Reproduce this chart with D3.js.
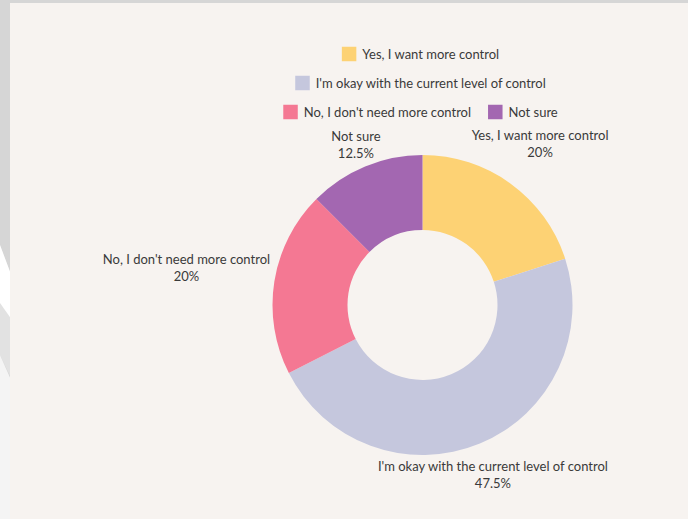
<!DOCTYPE html>
<html>
<head>
<meta charset="utf-8">
<script src="https://cdn.jsdelivr.net/npm/d3@7"></script>
<style>
  html, body { margin: 0; padding: 0; background: #ffffff; }
  svg { display: block; }
  text { font-family: Lato, "Open Sans", sans-serif; fill: #3a3a3a; }
</style>
</head>
<body>
<svg id="chart" width="688" height="519"></svg>
<script>
// Survey answers and their shares (%)
const categories = [
  "Yes, I want more control",
  "I'm okay with the current level of control",
  "No, I don't need more control",
  "Not sure"
];
const shares = [20, 47.5, 20, 12.5];
const shareLabels = ["20%", "47.5%", "20%", "12.5%"];
const colors = ["#FDD274", "#C5C7DD", "#F47893", "#A367B1"];

// Legend rows (indices into categories)
const legendRows = [[0], [1], [2, 3]];

const W = 688, H = 519;
const fontSize = 13;
const svg = d3.select("#chart");

// Page backdrop: grey frame with a pale chevron, beige panel on top
svg.append("rect").attr("width", W).attr("height", H).attr("fill", "#d6d6d6");
svg.append("path")
  .attr("d", "M0,245 L12,277 L12,380 L0,355 Z")
  .attr("fill", "#e2e2e2");
svg.append("path")
  .attr("d", "M0,245 L12,277 L12,320 L0,303 Z")
  .attr("fill", "#ffffff");
svg.append("path")
  .attr("d", "M0,355 L12,382 L12,519 L0,519 Z")
  .attr("fill", "#f4f4f4");
svg.append("rect").attr("x", 10).attr("y", 3).attr("width", W - 10).attr("height", H - 3)
  .attr("fill", "#F7F3F0");

// Donut geometry
const cx = 422.5, cy = 305;
const outerR = 150, innerR = 75;

const pie = d3.pie().sort(null).value(d => d.value);
const arcs = pie(categories.map((c, i) => ({ name: c, value: shares[i], label: shareLabels[i], color: colors[i] })));

const arc = d3.arc().innerRadius(innerR).outerRadius(outerR);

const g = svg.append("g").attr("transform", `translate(${cx},${cy})`);
g.selectAll("path.slice")
  .data(arcs)
  .join("path")
  .attr("class", "slice")
  .attr("d", arc)
  .attr("fill", d => d.data.color);

// Outside labels, placed along each slice's mid angle
const labelDist = [200, 184, 239, 174];
const lineGap = 17;
const labels = g.selectAll("g.lbl")
  .data(arcs)
  .join("g")
  .attr("class", "lbl")
  .attr("transform", (d, i) => {
    const a = (d.startAngle + d.endAngle) / 2;
    const r = labelDist[i];
    return `translate(${r * Math.sin(a)},${-r * Math.cos(a) - lineGap / 2})`;
  });
labels.append("text")
  .attr("text-anchor", "middle")
  .attr("dominant-baseline", "central")
  .attr("font-size", fontSize)
  .text(d => d.data.name);
labels.append("text")
  .attr("text-anchor", "middle")
  .attr("dominant-baseline", "central")
  .attr("y", lineGap)
  .attr("font-size", fontSize)
  .text(d => d.data.label);

// Legend
const legendCx = 420.5, legendTop = 54, rowGap = 29;
const sw = 14.5, swGap = 6, itemGap = 17;
const legend = svg.append("g");
legendRows.forEach((row, ri) => {
  const rowG = legend.append("g");
  let x = 0;
  row.forEach(idx => {
    const item = rowG.append("g").attr("transform", `translate(${x},0)`);
    item.append("rect")
      .attr("x", 0).attr("y", -sw / 2)
      .attr("width", sw).attr("height", sw)
      .attr("fill", colors[idx]);
    const t = item.append("text")
      .attr("x", sw + swGap)
      .attr("dominant-baseline", "central")
      .attr("font-size", fontSize)
      .text(categories[idx]);
    x += sw + swGap + t.node().getComputedTextLength() + itemGap;
  });
  const rowW = x - itemGap;
  rowG.attr("transform", `translate(${legendCx - rowW / 2},${legendTop + ri * rowGap})`);
});
</script>
</body>
</html>
